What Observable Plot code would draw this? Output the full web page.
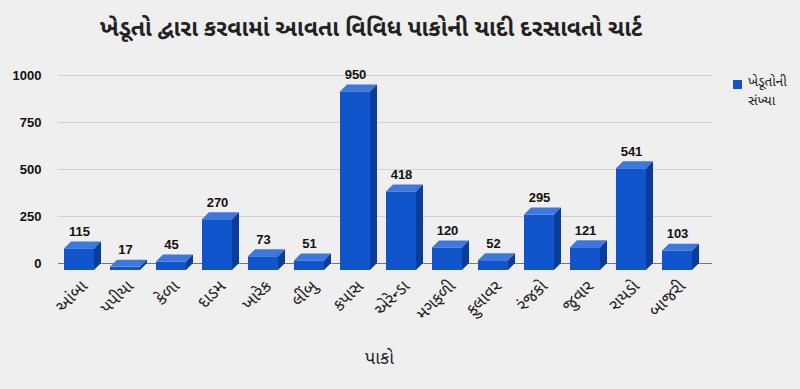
<!DOCTYPE html>
<html>
<head>
<meta charset="utf-8">
<script src="https://cdn.jsdelivr.net/npm/d3@7"></script>
<script src="https://cdn.jsdelivr.net/npm/@observablehq/plot@0.6"></script>
<style>
  html, body { margin: 0; padding: 0; background: #efefef; }
  #wrap { position: relative; width: 800px; height: 389px; background: #efefef; overflow: hidden;
          font-family: "Noto Sans Gujarati", "Noto Sans", "Liberation Sans", sans-serif; }
  #title { height: 52px; line-height: 60px; font-size: 23px; font-weight: bold; color: #222;
           padding-left: 100px; white-space: nowrap; }
  #legend { position: absolute; left: 733px; top: 74px; font-size: 13.5px; color: #222; line-height: 19px; }
  #legend .sw { position: absolute; left: 0; top: 6px; width: 9px; height: 9px; background: #1155cc; }
  #legend .tx { position: absolute; left: 15px; top: 0; white-space: nowrap; }
</style>
</head>
<body>
<div id="wrap">
  <div id="title"></div>
  <div id="legend"><div class="sw"></div><div class="tx"></div></div>
  <div id="chart"></div>
</div>
<script>
const titleText = "ખેડૂતો દ્વારા કરવામાં આવતા વિવિધ પાકોની યાદી દરસાવતો ચાર્ટ";
const seriesName = ["ખેડૂતોની", "સંખ્યા"];
const xTitle = "પાકો";
const crops = ["આંબા", "પપીયા", "કેળા", "દાડમ", "ખારેક", "લીંબુ", "કપાસ", "એરેન્ડા", "મગફળી", "ફુલાવર", "રંજકો", "જુવાર", "રાયડો", "બાજરી"];
const counts = [115, 17, 45, 270, 73, 51, 950, 418, 120, 52, 295, 121, 541, 103];
const yTicks = [0, 250, 500, 750, 1000];

document.getElementById("title").textContent = titleText;
document.querySelector("#legend .tx").innerHTML = seriesName.join("<br>");

const data = crops.map((c, i) => ({crop: c, value: counts[i]}));
const D = 7; // 3D depth in px
const FRONT = "#1155cc", TOP = "#3f78dc", SIDE = "#0c3c9a";

const plot = Plot.plot({
  width: 800,
  height: 337,
  marginLeft: 58,
  marginRight: 88,
  marginTop: 23,
  marginBottom: 126,
  style: {background: "transparent", fontFamily: "\"Noto Sans Gujarati\", \"Noto Sans\", sans-serif"},
  x: {domain: crops, paddingInner: 0.35, paddingOuter: 0.2, label: null},
  y: {domain: [0, 1000], ticks: yTicks, label: null},
  marks: [
    Plot.gridY(yTicks.filter(t => t > 0), {stroke: "#cfcfcf", strokeOpacity: 1}),
    Plot.ruleY([0], {stroke: "#777"}),
    Plot.axisY({ticks: yTicks, tickFormat: d => String(d), tickSize: 0, tickPadding: 17, fontWeight: "bold", fontSize: 13,
                fill: "#111", fontFamily: "Liberation Sans, Arial, sans-serif", label: null}),
    Plot.axisX({tickSize: 0, tickRotate: -45, tickPadding: 20, fontSize: 17, fill: "#222",
                dx: -2, label: xTitle, labelAnchor: "center", labelOffset: 100, labelArrow: "none"}),
    Plot.rectY(data, {x: "crop", y: "value", fill: FRONT, dx: -D, dy: D}),
    Plot.text(data, {x: "crop", y: "value", text: d => String(d.value), dx: -D, dy: -10,
                     fontWeight: "bold", fontSize: 13, fill: "#111",
                     fontFamily: "Liberation Sans, Arial, sans-serif"})
  ]
});

// add 3D top & side faces using Plot's own scales
const xs = plot.scale("x"), ys = plot.scale("y");
const bw = xs.bandwidth;
const frontGroup = plot.querySelector('g[aria-label="rect"]');
const faces = document.createElementNS("http://www.w3.org/2000/svg", "g");
frontGroup.parentNode.insertBefore(faces, frontGroup.nextSibling);
const g = d3.select(faces);
for (const d of data) {
  const bx0 = xs.apply(d.crop), bx1 = bx0 + bw;
  const by = ys.apply(d.value), b0 = ys.apply(0);
  const fx0 = bx0 - D, fx1 = bx1 - D, fy = by + D, fb = b0 + D;
  g.append("path").attr("fill", TOP)
    .attr("d", `M${fx0},${fy}L${fx1},${fy}L${bx1},${by}L${bx0},${by}Z`);
  g.append("path").attr("fill", SIDE)
    .attr("d", `M${fx1},${fy}L${bx1},${by}L${bx1},${b0}L${fx1},${fb}Z`);
}
const lbl = [...plot.querySelectorAll('g[aria-label="x-axis label"] text')];
lbl.forEach(t => { t.setAttribute("font-size", "18"); t.style.fontSize = "18px"; t.setAttribute("fill", "#222"); t.setAttribute("dx", "-6"); });

document.getElementById("chart").appendChild(plot);
</script>
</body>
</html>
